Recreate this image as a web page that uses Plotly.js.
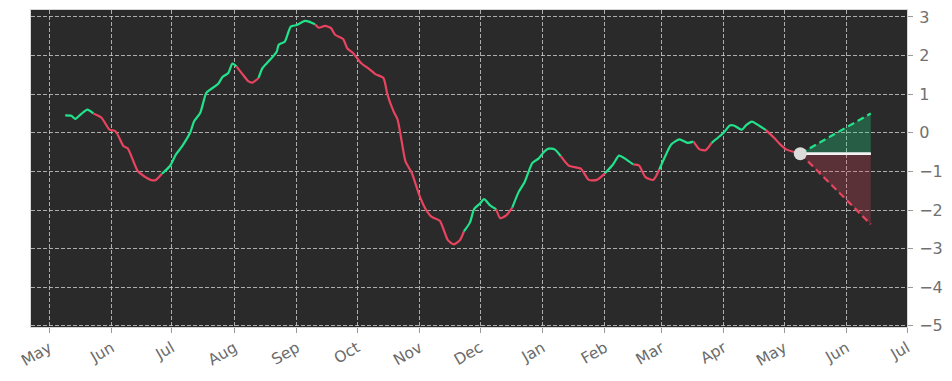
<!DOCTYPE html>
<html>
<head>
<meta charset="utf-8">
<script src="https://cdn.plot.ly/plotly-3.0.1.min.js"></script>
<style>html,body{margin:0;padding:0;background:#fff;}#chart{width:952px;height:381px;}</style>
</head>
<body>
<div id="chart"></div>
<script>
// ---- data ----
const dates = [
'2022-05-09','2022-05-12','2022-05-14','2022-05-17','2022-05-20','2022-05-23','2022-05-27','2022-05-31',
'2022-06-03','2022-06-07','2022-06-09','2022-06-14','2022-06-17','2022-06-21','2022-06-23','2022-06-26','2022-06-30',
'2022-07-03','2022-07-06','2022-07-10','2022-07-12','2022-07-15','2022-07-18','2022-07-20','2022-07-24','2022-07-26','2022-07-29','2022-07-31',
'2022-08-02','2022-08-05','2022-08-08','2022-08-10','2022-08-13','2022-08-15','2022-08-18','2022-08-22','2022-08-23','2022-08-26','2022-08-29',
'2022-09-01','2022-09-05','2022-09-07','2022-09-10','2022-09-12','2022-09-15','2022-09-18','2022-09-20','2022-09-24','2022-09-26','2022-09-29',
'2022-10-03','2022-10-07','2022-10-10','2022-10-14','2022-10-16','2022-10-19','2022-10-21','2022-10-23','2022-10-25','2022-10-28',
'2022-11-01','2022-11-04','2022-11-07','2022-11-11','2022-11-15','2022-11-18','2022-11-21','2022-11-23','2022-11-26','2022-11-28',
'2022-12-01','2022-12-03','2022-12-06','2022-12-09','2022-12-11','2022-12-14','2022-12-17','2022-12-20','2022-12-23','2022-12-27','2022-12-30',
'2023-01-02','2023-01-04','2023-01-07','2023-01-10','2023-01-14','2023-01-20','2023-01-24','2023-01-28',
'2023-02-01','2023-02-05','2023-02-08','2023-02-11','2023-02-15','2023-02-18','2023-02-21','2023-02-25','2023-02-28',
'2023-03-03','2023-03-06','2023-03-10','2023-03-14','2023-03-17','2023-03-20','2023-03-23','2023-03-26','2023-03-30',
'2023-04-01','2023-04-04','2023-04-06','2023-04-10','2023-04-12','2023-04-15','2023-04-19','2023-04-22','2023-04-26','2023-04-29',
'2023-05-02','2023-05-06','2023-05-09'
];
const values = [
0.45,0.44,0.36,0.49,0.60,0.50,0.39,0.08,
0.04,-0.35,-0.40,-0.99,-1.12,-1.23,-1.22,-1.06,-0.86,
-0.56,-0.35,0.00,0.30,0.51,1.03,1.12,1.27,1.44,1.55,1.79,
1.72,1.52,1.33,1.30,1.42,1.68,1.85,2.10,2.28,2.36,2.75,
2.79,2.90,2.88,2.81,2.72,2.77,2.71,2.54,2.43,2.19,2.06,
1.80,1.65,1.52,1.42,0.99,0.56,0.35,-0.20,-0.75,-1.03,
-1.64,-1.98,-2.18,-2.28,-2.78,-2.89,-2.78,-2.55,-2.32,-1.98,
-1.83,-1.72,-1.88,-1.98,-2.21,-2.14,-1.94,-1.55,-1.29,-0.78,-0.67,
-0.48,-0.41,-0.43,-0.60,-0.85,-0.93,-1.22,-1.22,
-1.05,-0.82,-0.59,-0.67,-0.82,-0.85,-1.14,-1.22,-0.95,
-0.60,-0.30,-0.17,-0.26,-0.23,-0.43,-0.45,-0.26,-0.09,
0.00,0.19,0.19,0.08,0.19,0.29,0.17,0.07,-0.13,-0.30,
-0.43,-0.50,-0.54
];
// dates where the line colour flips (first run is rising / green)
const trendBreaks = ['2022-05-23','2022-06-26','2022-08-02','2022-08-13','2022-09-10','2022-11-23','2022-12-09',
  '2022-12-17','2023-01-10','2023-02-01','2023-02-15','2023-02-28','2023-03-17','2023-03-26','2023-04-22'];
// forecast cone
const forecastDates = ['2023-05-09','2023-06-13'];
const forecastHigh = [-0.54, 0.50];
const forecastBase = [-0.54, -0.54];
const forecastLow  = [-0.54, -2.37];
// axis ticks
const monthTicks = ['2022-05-01','2022-06-01','2022-07-01','2022-08-01','2022-09-01','2022-10-01','2022-11-01','2022-12-01',
  '2023-01-01','2023-02-01','2023-03-01','2023-04-01','2023-05-01','2023-06-01','2023-07-01'];
const monthLabels = ['May','Jun','Jul','Aug','Sep','Oct','Nov','Dec','Jan','Feb','Mar','Apr','May','Jun','Jul'];
const yTicks = [-5,-4,-3,-2,-1,0,1,2,3];

// ---- build ----
const GREEN = '#22e38b', RED = '#e8445f';
const segs = [];
let cur = {x: [], y: [], up: true};
let b = 0;
for (let i = 0; i < dates.length; i++) {
  cur.x.push(dates[i]); cur.y.push(values[i]);
  if (b < trendBreaks.length && dates[i] === trendBreaks[b]) {
    segs.push(cur);
    cur = {x: [dates[i]], y: [values[i]], up: !cur.up};
    b++;
  }
}
segs.push(cur);

const traces = [];
traces.push({x: forecastDates, y: forecastHigh, mode: 'lines', line: {color: GREEN, width: 2.2, dash: '7px,4px'}, hoverinfo: 'skip', showlegend: false});
traces.push({x: forecastDates, y: forecastBase, mode: 'lines', line: {color: '#f2f2f2', width: 2.5}, fill: 'tonexty', fillcolor: 'rgba(34,227,139,0.28)', hoverinfo: 'skip', showlegend: false});
traces.push({x: forecastDates, y: forecastLow, mode: 'lines', line: {color: RED, width: 2.2, dash: '7px,4px'}, fill: 'tonexty', fillcolor: 'rgba(232,68,95,0.26)', hoverinfo: 'skip', showlegend: false});
traces.push({x: forecastDates, y: forecastBase, mode: 'lines', line: {color: '#f2f2f2', width: 2.5}, hoverinfo: 'skip', showlegend: false});
segs.forEach(s => traces.push({x: s.x, y: s.y, mode: 'lines', line: {color: s.up ? GREEN : RED, width: 2.2, shape: 'spline', smoothing: 0.6}, showlegend: false}));
traces.push({x: [forecastDates[0]], y: [forecastBase[0]], mode: 'markers', marker: {color: '#dcdcdc', size: 13}, showlegend: false});

const gridStyle = {showgrid: true, gridcolor: 'rgba(205,205,205,0.8)', griddash: '4px,2px', gridwidth: 1};
const layout = {
  width: 952, height: 381,
  margin: {l: 31, r: 45, t: 10, b: 54},
  paper_bgcolor: '#ffffff', plot_bgcolor: '#2a2a2a',
  font: {family: 'DejaVu Sans', color: '#6b6b6b', size: 15},
  showlegend: false,
  xaxis: Object.assign({
    type: 'date', range: ['2022-04-22', '2023-07-01'],
    tickmode: 'array', tickvals: monthTicks, ticktext: monthLabels, tickangle: -30,
    ticks: 'outside', ticklen: 5, tickcolor: '#999',
    showline: true, mirror: true, linecolor: '#d6d6d6', linewidth: 1,
    zeroline: false, tickfont: {size: 15.5, color: '#6b6b6b'}
  }, gridStyle),
  yaxis: Object.assign({
    side: 'right', range: [-5.03, 3.18],
    tickmode: 'array', tickvals: yTicks,
    ticks: 'outside', ticklen: 5, tickcolor: '#999', ticklabelstandoff: 3,
    showline: true, mirror: true, linecolor: '#d6d6d6', linewidth: 1,
    zeroline: false, tickfont: {size: 16, color: '#707070'}
  }, gridStyle)
};
Plotly.newPlot('chart', traces, layout, {staticPlot: true, displayModeBar: false});
</script>
</body>
</html>
